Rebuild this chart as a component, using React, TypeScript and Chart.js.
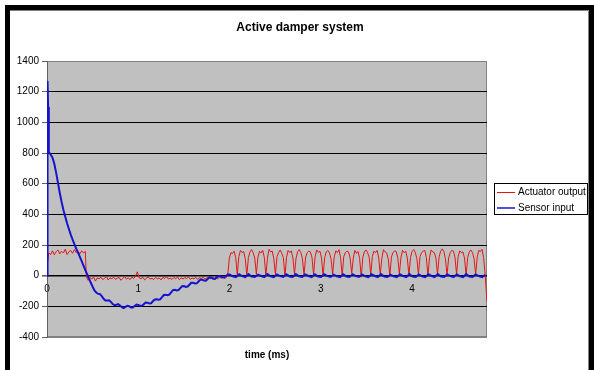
import { useEffect, useRef } from 'react';
import { Chart, registerables } from 'chart.js';

Chart.register(...registerables);

const chartTitle = 'Active damper system';
const xAxisTitle = 'time (ms)';
const seriesNames = ['Actuator output', 'Sensor input'];
const xTickLabels = ['0', '1', '2', '3', '4'];
const yTickLabels = ['-400', '-200', '0', '200', '400', '600', '800', '1000', '1200', '1400'];

const xMin = 0;
const xMax = 4.82;
const yMin = -400;
const yMax = 1400;
const yStep = 200;

// Actuator output (ms ranges in the comments)
// 0 -> 0.42 ms
const actuatorStartValues = [60, 148, 138, 162, 136, 156, 168, 142, 160, 148, 172, 138, 156, 164, 146, 170, 150, 160, 142, 162, 148, 158];
// 0.43 -> 1.97 ms
const actuatorIdleValues = [
  -5, -30, -12, -22, -8, -35, -15, -20, -10, -25, -18, -5, -28, -14, -20, -9, -24, -16, -12, -30,
  -18, -6, -22, -15, -26, -10, -18, -2, 25, -14, -20, -11, -27, -16, -8, -22, -18, -25, -12, -20,
  -15, -28, -10, -18, -6, -22, -16, -24, -12, -19, -9, -26, -15, -21, -13, -18, -8, -24, -16, -20,
  -11, -25, -14, -18, -10, -22, -16, -12, -20, -8, -18, -14, -22, -10, -16, -12, -18, -8,
];
// 1.98 -> 4.80 ms
const actuatorPulseValues = [
  5, 115, 150, 145, 160, 118,
  8, 125, 165, 150, 158, 112,
  2, 118, 155, 170, 150, 115,
  10, 122, 160, 148, 165, 120,
  0, 115, 172, 155, 160, 110,
  6, 125, 150, 168, 145, 118,
  -5, 120, 165, 150, 162, 115,
  12, 115, 158, 170, 150, 112,
  3, 122, 150, 160, 155, 120,
  8, 125, 168, 152, 160, 115,
  -2, 118, 155, 165, 148, 110,
  10, 120, 162, 150, 170, 118,
  0, 124, 150, 160, 155, 115,
  15, 115, 165, 145, 158, 112,
  -10, 120, 155, 168, 150, 120,
  5, 125, 160, 150, 165, 115,
  8, 115, 170, 155, 148, 110,
  0, 122, 150, 162, 158, 118,
  12, 120, 165, 150, 160, 115,
  2, 118, 158, 170, 152, 112,
  10, 125, 150, 160, 165, 118,
  -5, 120, 168, 155, 150, 115,
  8, 122, 160, 175, 158, 110,
  3, 115, 150, 165, 160, 120,
  10, 124, 162, 150, 155, 115,
  0, 120, 155, 168, 150, 112,
  6, 122, 165, 158, 172, 118,
  5,
];
// 4.82 ms
const actuatorEndValues = [-170];

// Sensor input
const sensorSpikeTimes = [0, 0.006, 0.012, 0.02];
const sensorSpikeValues = [0, 1270, 1100, 805];
// 0.04 -> 1.98 ms
const sensorDecayValues = [
  790, 770, 730, 672, 605, 540, 480, 428, 384, 342, 304, 268, 236, 205, 176, 150, 122, 95, 66, 36, 8,
  -20, -46, -72, -96, -110, -118, -120, -134, -151, -162, -162, -161, -171, -185, -193,
  -190, -186, -194, -206, -211, -204, -196, -199, -207, -208, -198, -188, -191, -197, -197,
  -186, -175, -176, -181, -180, -167, -155, -154, -157, -154, -140, -126, -124, -127, -123,
  -109, -94, -92, -96, -94, -81, -69, -68, -73, -71, -59, -46, -46, -51, -50,
  -38, -26, -26, -32, -33, -22, -11, -13, -20, -21, -11, -2, -4, -11, -12, -2, 8,
];
// 2.00 -> 4.80 ms
const sensorSteadyValues = [
  8, -4, -9, 9, -3, -10, 10, -5, -8, 7, -2, -9, 10, -4, -10, 8, -3, -8, 9, -5,
  -9, 10, -4, -8, 8, -2, -10, 9, -5, -9, 10, -3, -8, 7, -4, -10, 9, -5, -9, 10,
  -3, -8, 8, -4, -10, 9, -2, -9, 10, -5, -8, 7, -4, -10, 9, -3, -9, 10, -5, -8,
  8, -4, -10, 9, -2, -9, 10, -5, -8, 8, -3, -10, 9, -4, -9, 10, -5, -8, 8, -3,
  -9, 5,
];

function sampled(start: number, end: number, values: number[]) {
  const n = values.length;
  const step = n > 1 ? (end - start) / (n - 1) : 0;
  return values.map((v, i) => ({ x: start + i * step, y: v }));
}

const actuatorPoints = [
  ...sampled(0, 0.42, actuatorStartValues),
  ...sampled(0.43, 1.97, actuatorIdleValues),
  ...sampled(1.98, 4.8, actuatorPulseValues),
  ...sampled(4.82, 4.82, actuatorEndValues),
];

const sensorPoints = [
  ...sensorSpikeTimes.map((t, i) => ({ x: t, y: sensorSpikeValues[i] })),
  ...sampled(0.04, 1.98, sensorDecayValues),
  ...sampled(2.0, 4.8, sensorSteadyValues),
];

const FONT = '"Liberation Sans", Arial, Helvetica, sans-serif';
const RED = '#e81414';
const BLUE = '#1414cc';

const decor = {
  id: 'decor',
  beforeDraw(chart: any) {
    const { ctx, width, height, chartArea: a } = chart;
    ctx.save();
    ctx.fillStyle = '#ffffff';
    ctx.fillRect(0, 0, width, height);
    ctx.fillStyle = '#000000';
    ctx.fillRect(5, 5, width - 5, height - 5);
    ctx.fillStyle = '#ffffff';
    ctx.fillRect(10, 10, 579, height - 10);
    ctx.strokeStyle = '#808080';
    ctx.lineWidth = 1;
    ctx.beginPath();
    ctx.moveTo(10, 10.5);
    ctx.lineTo(588.5, 10.5);
    ctx.lineTo(588.5, height);
    ctx.stroke();
    ctx.fillStyle = '#c0c0c0';
    ctx.fillRect(a.left, a.top, a.right - a.left, a.bottom - a.top);
    ctx.strokeStyle = '#808080';
    ctx.strokeRect(a.left + 0.5, a.top + 0.5, a.right - a.left - 1, a.bottom - a.top - 1);
    ctx.restore();
  },
  afterDraw(chart: any) {
    const { ctx, chartArea: a } = chart;
    ctx.save();
    ctx.fillStyle = '#000';
    ctx.textAlign = 'center';
    ctx.textBaseline = 'middle';
    ctx.font = `bold 12px ${FONT}`;
    ctx.fillText(chartTitle, 300, 28);
    ctx.font = `bold 10px ${FONT}`;
    ctx.fillText(xAxisTitle, (a.left + a.right) / 2, 355);

    // legend
    ctx.fillStyle = '#fff';
    ctx.fillRect(494, 183, 94, 32);
    ctx.strokeStyle = '#000';
    ctx.lineWidth = 1;
    ctx.strokeRect(494.5, 183.5, 93, 31);
    const colors = [RED, BLUE];
    const rows = [192.5, 208];
    ctx.font = `10px ${FONT}`;
    ctx.textAlign = 'left';
    seriesNames.forEach((name, i) => {
      ctx.strokeStyle = colors[i];
      ctx.lineWidth = i === 0 ? 1 : 1.5;
      ctx.beginPath();
      ctx.moveTo(497, rows[i]);
      ctx.lineTo(515, rows[i]);
      ctx.stroke();
      ctx.fillStyle = '#000';
      ctx.fillText(name, 518, rows[i]);
    });
    ctx.restore();
  },
};

export default function App() {
  const ref = useRef<HTMLCanvasElement | null>(null);

  useEffect(() => {
    if (!ref.current) return;
    document.body.style.margin = '0';
    const chart = new Chart(ref.current, {
      type: 'line',
      data: {
        datasets: [
          {
            label: seriesNames[0],
            data: actuatorPoints,
            borderColor: RED,
            borderWidth: 1,
            pointRadius: 0,
            tension: 0,
            order: 2,
          },
          {
            label: seriesNames[1],
            data: sensorPoints,
            borderColor: BLUE,
            borderWidth: 2,
            pointRadius: 0,
            tension: 0,
            order: 1,
          },
        ],
      },
      options: {
        responsive: false,
        animation: false,
        devicePixelRatio: 1,
        layout: { padding: { left: 0, top: 61, right: 107, bottom: 33 } },
        plugins: {
          legend: { display: false },
          title: { display: false },
          tooltip: { enabled: false },
        },
        scales: {
          x: {
            type: 'linear',
            position: { y: 0 } as any,
            min: xMin,
            max: xMax,
            grid: { display: false, drawTicks: true, tickLength: 5 },
            border: { display: false },
            ticks: {
              stepSize: 1,
              includeBounds: false,
              autoSkip: false,
              maxRotation: 0,
              padding: 3,
              color: '#000',
              font: { family: FONT, size: 10 },
              callback: (value: any) => {
                const v = Number(value);
                return Number.isInteger(v) && xTickLabels[v] !== undefined ? xTickLabels[v] : '';
              },
            },
          },
          y: {
            type: 'linear',
            min: yMin,
            max: yMax,
            afterFit: (s: any) => {
              s.width = 47;
            },
            grid: {
              color: (c: any) => {
                const v = c.tick && c.tick.value;
                return v === yMax || v === yMin ? '#808080' : '#000000';
              },
              lineWidth: (c: any) => (c.tick && c.tick.value === 0 ? 1.6 : 1),
              tickLength: 5,
              tickColor: '#606060',
            },
            border: { color: '#606060', width: 1 },
            ticks: {
              stepSize: yStep,
              padding: 3,
              color: '#000',
              font: { family: FONT, size: 10 },
              callback: (_v: any, index: number) => yTickLabels[index],
            },
          },
        },
      },
      plugins: [decor],
    });
    return () => chart.destroy();
  }, []);

  return (
    <div style={{ position: 'fixed', left: 0, top: 0, width: 594, height: 370 }}>
      <canvas ref={ref} width={594} height={370} style={{ display: 'block' }} />
    </div>
  );
}
